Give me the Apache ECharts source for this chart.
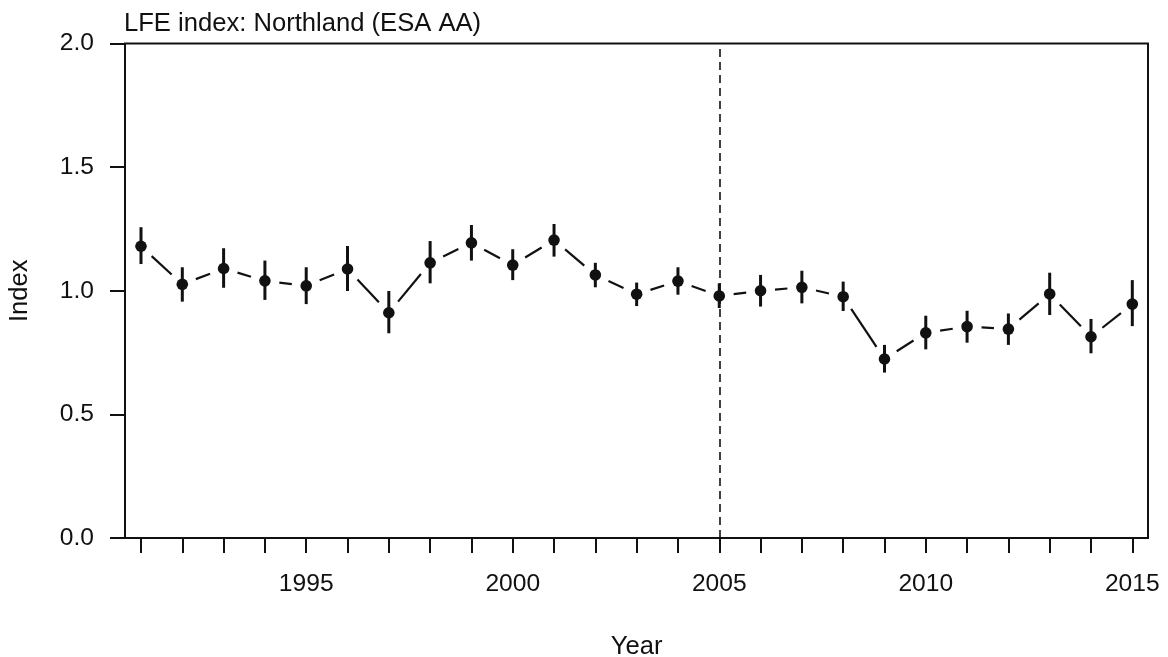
<!DOCTYPE html>
<html>
<head>
<meta charset="utf-8">
<script src="https://cdn.jsdelivr.net/npm/echarts@6/dist/echarts.min.js"></script>
<style>
html,body{margin:0;padding:0;background:#fff;}
#chart{width:1168px;height:657px;}
</style>
</head>
<body>
<div id="chart"></div>
<script>
const years = [1991,1992,1993,1994,1995,1996,1997,1998,1999,2000,2001,2002,2003,2004,2005,2006,2007,2008,2009,2010,2011,2012,2013,2014,2015];
const indexValues = [1.180,1.026,1.090,1.040,1.020,1.088,0.911,1.113,1.194,1.104,1.205,1.064,0.986,1.039,0.979,1.000,1.014,0.976,0.724,0.830,0.855,0.845,0.987,0.814,0.946];
const upperValues = [1.257,1.095,1.172,1.122,1.095,1.181,0.999,1.201,1.266,1.168,1.270,1.113,1.033,1.095,1.030,1.064,1.081,1.037,0.781,0.899,0.919,0.908,1.073,0.886,1.043];
const lowerValues = [1.108,0.956,1.012,0.963,0.946,0.999,0.828,1.030,1.122,1.043,1.138,1.014,0.938,0.984,0.930,0.936,0.949,0.918,0.669,0.763,0.790,0.781,0.902,0.747,0.857];
const yTicks = [0, 0.5, 1.0, 1.5, 2.0];
const xLabelYears = [1995, 2000, 2005, 2010, 2015];
const breakYear = 2005;
const titleText = 'LFE index: Northland (ESA AA)';
const xName = 'Year';
const yName = 'Index';

const INK = '#111';
const FONT = 'Liberation Sans, Arial, Helvetica, sans-serif';

const pointData = years.map((y, i) => [y, indexValues[i], lowerValues[i], upperValues[i]]);
const segData = [];
for (let i = 0; i < years.length - 1; i++) {
  segData.push([years[i], indexValues[i], years[i + 1], indexValues[i + 1]]);
}

const chart = echarts.init(document.getElementById('chart'), null, {renderer: 'canvas'});
const option = {
  backgroundColor: '#fff',
  animation: false,
  title: {
    text: titleText,
    left: 124, top: 11, padding: 0,
    textStyle: {fontFamily: FONT, fontSize: 25.6, fontWeight: 'normal', color: INK}
  },
  grid: [
    {left: 125, right: 20, top: 43.5, bottom: 119, containLabel: false, outerBoundsMode: 'none',
     show: true, borderColor: INK, borderWidth: 2, backgroundColor: 'transparent'},
    {left: 141, right: 35.7, top: 43.5, bottom: 119, containLabel: false, outerBoundsMode: 'none', show: false}
  ],
  xAxis: [
    {gridIndex: 0, type: 'value', min: 0, max: 1, show: true,
     axisLine: {show: false}, axisTick: {show: false}, axisLabel: {show: false}, splitLine: {show: false}},
    {gridIndex: 1, type: 'value', min: years[0], max: years[years.length - 1], interval: 1,
     axisLine: {show: false},
     axisTick: {show: true, inside: false, length: 15, lineStyle: {color: INK, width: 2}},
     axisLabel: {show: true, margin: 34, fontFamily: FONT, fontSize: 24.6, color: INK,
       formatter: v => (xLabelYears.indexOf(v) >= 0 ? String(v) : '')},
     splitLine: {show: false},
     name: xName, nameLocation: 'middle', nameGap: 96,
     nameTextStyle: {fontFamily: FONT, fontSize: 25.6, color: INK}}
  ],
  yAxis: [
    {gridIndex: 0, type: 'value', min: yTicks[0], max: yTicks[yTicks.length - 1], interval: 0.5,
     axisLine: {show: false},
     axisTick: {show: true, inside: false, length: 15, lineStyle: {color: INK, width: 2}},
     axisLabel: {show: true, margin: 31, fontFamily: FONT, fontSize: 24.6, color: INK,
       formatter: v => v.toFixed(1)},
     splitLine: {show: false},
     name: yName, nameLocation: 'middle', nameGap: 92, nameRotate: 90,
     nameTextStyle: {fontFamily: FONT, fontSize: 25.6, color: INK}},
    {gridIndex: 1, type: 'value', min: yTicks[0], max: yTicks[yTicks.length - 1], show: false}
  ],
  series: [
    {
      type: 'custom', xAxisIndex: 1, yAxisIndex: 1,
      data: segData,
      encode: {x: [0, 2], y: [1, 3]},
      renderItem: function (params, api) {
        const p1 = api.coord([api.value(0), api.value(1)]);
        const p2 = api.coord([api.value(2), api.value(3)]);
        const dx = p2[0] - p1[0], dy = p2[1] - p1[1];
        const len = Math.sqrt(dx * dx + dy * dy);
        const gap = 14.5;
        if (len <= 2 * gap) return null;
        const ux = dx / len, uy = dy / len;
        return {
          type: 'line',
          shape: {x1: p1[0] + ux * gap, y1: p1[1] + uy * gap, x2: p2[0] - ux * gap, y2: p2[1] - uy * gap},
          style: {stroke: INK, lineWidth: 2.2}
        };
      },
      silent: true, z: 2
    },
    {
      type: 'custom', xAxisIndex: 1, yAxisIndex: 1,
      data: pointData,
      encode: {x: 0, y: [1, 2, 3]},
      renderItem: function (params, api) {
        const x = api.value(0);
        const pc = api.coord([x, api.value(1)]);
        const pl = api.coord([x, api.value(2)]);
        const pu = api.coord([x, api.value(3)]);
        return {
          type: 'group',
          children: [
            {type: 'line', shape: {x1: pl[0], y1: pl[1], x2: pu[0], y2: pu[1]}, style: {stroke: INK, lineWidth: 3}},
            {type: 'circle', shape: {cx: pc[0], cy: pc[1], r: 5.8}, style: {fill: INK}}
          ]
        };
      },
      silent: true, z: 3
    },
    {
      type: 'line', xAxisIndex: 1, yAxisIndex: 1, data: [], silent: true,
      markLine: {
        silent: true, symbol: ['none', 'none'], label: {show: false},
        lineStyle: {color: INK, width: 1.6, type: [8, 5]},
        data: [{xAxis: breakYear}]
      }
    }
  ]
};
chart.setOption(option);
</script>
</body>
</html>
